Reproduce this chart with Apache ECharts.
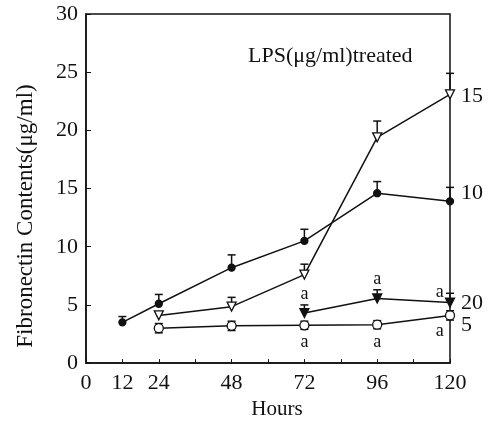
<!DOCTYPE html>
<html>
<head>
<meta charset="utf-8">
<script src="https://cdn.jsdelivr.net/npm/echarts@6/dist/echarts.min.js"></script>
<style>html,body{margin:0;padding:0;background:#fff}#c{width:491px;height:425px}</style>
</head>
<body>
<div id="c"></div>
<script>
// ---- data ----
const xTickLabels = [0, 12, 24, 48, 72, 96, 120];

const hours10 = [12, 24, 48, 72, 96, 120];
const lps10 = [3.5, 5.1, 8.2, 10.5, 14.6, 13.9];
const lps10Err = [0.5, 0.8, 1.1, 1.0, 1.0, 1.2];

const hours15 = [24, 48, 72, 96, 120];
const lps15 = [4.1, 4.85, 7.6, 19.4, 23.1];
const lps15Err = [0.3, 0.8, 0.9, 1.4, 1.8];

const hours20 = [72, 96, 120];
const lps20 = [4.3, 5.55, 5.2];
const lps20Err = [0.7, 0.75, 0.8];
const sig20 = ['a', 'a', 'a'];

const hours5 = [24, 48, 72, 96, 120];
const lps5 = [3.0, 3.2, 3.25, 3.3, 4.1];
const lps5Err = [0.4, 0.4, 0.35, 0.35, 0.4];
const sig5 = ['', '', 'a', 'a', 'a'];

const FONT = '"Liberation Serif", "DejaVu Serif", serif';
const INK = '#111';

function errSeries(xs, ys, errs, twoSided) {
  return {
    type: 'custom',
    z: 1,
    silent: true,
    data: xs.map((x, i) => [x, ys[i], errs[i]]),
    encode: { x: 0, y: 1 },
    renderItem: function (params, api) {
      const x = api.value(0), y = api.value(1), e = api.value(2);
      const top = api.coord([x, y + e]);
      const base = api.coord([x, twoSided ? y - e : y]);
      const cap = 4;
      const st = { stroke: INK, lineWidth: 1.5 };
      const ch = [
        { type: 'line', shape: { x1: top[0], y1: top[1], x2: base[0], y2: base[1] }, style: st },
        { type: 'line', shape: { x1: top[0] - cap, y1: top[1], x2: top[0] + cap, y2: top[1] }, style: st }
      ];
      if (twoSided) ch.push({ type: 'line', shape: { x1: base[0] - cap, y1: base[1], x2: base[0] + cap, y2: base[1] }, style: st });
      return { type: 'group', children: ch };
    }
  };
}

function lineSeries(name, xs, ys, sym, opts, endOffset, sig, sigPos) {
  return Object.assign({
    type: 'line',
    name: name,
    z: 3,
    symbol: sym,
    lineStyle: { color: INK, width: 1.5 },
    itemStyle: { color: INK, borderColor: INK, borderWidth: 1.3 },
    data: xs.map((x, i) => {
      const d = { value: [x, ys[i]] };
      if (sig && sig[i]) {
        const last = i === xs.length - 1;
        const p = last ? sigPos.last : sigPos.mid;
        d.label = Object.assign({ show: true, formatter: sig[i], fontFamily: FONT, fontSize: 18, color: INK }, p);
      }
      return d;
    }),
    endLabel: { show: true, formatter: name, fontFamily: FONT, fontSize: 22, color: INK, distance: 11, offset: endOffset },
    animation: false
  }, opts);
}

const chart = echarts.init(document.getElementById('c'));
chart.setOption({
  animation: false,
  backgroundColor: '#fff',
  grid: { left: 86, right: 41, top: 14, bottom: 54, show: true, borderColor: INK, borderWidth: 1.5, backgroundColor: 'transparent' },
  title: {
    text: 'LPS(μg/ml)treated', left: 243, top: 40,
    textStyle: { fontFamily: FONT, fontSize: 22, fontWeight: 'normal', color: INK }
  },
  xAxis: {
    type: 'value', min: 0, max: 120, interval: 12,
    name: 'Hours', nameLocation: 'middle', nameGap: 33,
    nameTextStyle: { fontFamily: FONT, fontSize: 21, color: INK, padding: [0, 0, 0, 18] },
    axisLine: { lineStyle: { color: INK, width: 1.5 } },
    axisTick: { inside: true, length: 4, lineStyle: { color: INK } },
    splitLine: { show: false },
    axisLabel: {
      fontFamily: FONT, fontSize: 22, color: INK, margin: 9, showMinLabel: true, showMaxLabel: true,
      formatter: v => (xTickLabels.indexOf(v) >= 0 ? String(v) : '')
    }
  },
  yAxis: {
    type: 'value', min: 0, max: 30, interval: 5,
    axisLine: { show: true, lineStyle: { color: INK, width: 1.5 } },
    axisTick: { show: true, inside: true, length: 5, lineStyle: { color: INK } },
    splitLine: { show: false },
    axisLabel: { fontFamily: FONT, fontSize: 22, color: INK, margin: 8, padding: [4, 0, 0, 0] }
  },
  graphic: [{
    type: 'text', x: 26, y: 216, rotation: Math.PI / 2,
    style: { text: 'Fibronectin Contents(μg/ml)', font: '23px ' + FONT, fill: INK, align: 'center', verticalAlign: 'middle' }
  }],
  series: [
    errSeries(hours10, lps10, lps10Err, false),
    errSeries(hours15, lps15, lps15Err, false),
    errSeries(hours20, lps20, lps20Err, false),
    errSeries(hours5, lps5, lps5Err, true),
    lineSeries('10', hours10, lps10, 'circle', { symbolSize: 7 }, [0, -8]),
    lineSeries('15', hours15, lps15, 'triangle', { symbolSize: 9, symbolRotate: 180, itemStyle: { color: '#fff', borderColor: INK, borderWidth: 1.3 } }, [0, 2]),
    lineSeries('20', hours20, lps20, 'triangle', { symbolSize: 9, symbolRotate: 180 }, [0, 1], sig20,
      { mid: { position: 'top', distance: 5 }, last: { position: 'left', distance: 1, offset: [0, -10] } }),
    lineSeries('5', hours5, lps5, 'circle', { symbolSize: 9, itemStyle: { color: '#fff', borderColor: INK, borderWidth: 1.3 } }, [0, 9.5], sig5,
      { mid: { position: 'bottom', distance: 3 }, last: { position: 'left', distance: 1, offset: [0, 16] } })
  ]
});
</script>
</body>
</html>
